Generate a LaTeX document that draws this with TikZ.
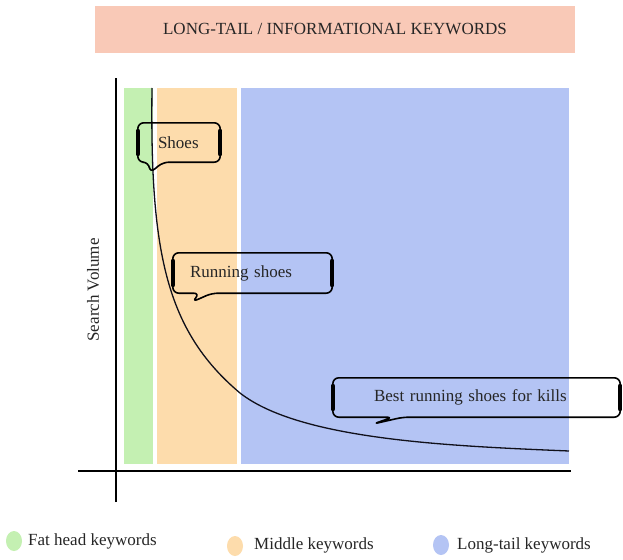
\documentclass[tikz,border=0pt]{standalone}
\usepackage{fontspec}
\setmainfont{Liberation Serif}
\usetikzlibrary{calc,shapes.geometric}

\definecolor{fathead}{HTML}{C4F0B2}
\definecolor{middlekw}{HTML}{FDDCAC}
\definecolor{longtail}{HTML}{B4C4F4}
\definecolor{titlebg}{HTML}{F9C9B7}
\definecolor{inkline}{HTML}{10101A}

\tikzset{
  lbl/.style={font=\fontsize{17}{20}\selectfont, text=black!85},
  titlebox/.style={lbl, fill=titlebg, minimum width=480pt, minimum height=47pt, inner sep=0pt},
  band/.style={inner sep=0pt, draw=none},
  axisline/.style={line width=1.3pt, black},
  demand/.style={line width=1.3pt, inkline},
  bubble/.style={lbl, inner ysep=0pt, align=left},
  bubbleline/.style={line width=1.6pt, black, rounded corners=6pt, line join=round},
  bubbleside/.style={line width=4pt, black, line cap=round},
  legdot/.style={ellipse, inner sep=0pt, minimum width=16pt, minimum height=20pt, draw=none},
  legtext/.style={lbl, anchor=west, inner sep=0pt},
}

\begin{document}
\begin{tikzpicture}[x=1pt,y=-1pt]
\useasboundingbox (0,0) rectangle (623,559);
\fill[white] (0,0) rectangle (623,559);

% heading
\node[titlebox] (title) at (335,29.5) {LONG-TAIL / INFORMATIONAL KEYWORDS};

% keyword bands
\node[band, fill=fathead, minimum width=29pt, minimum height=376pt] (fat) at (138.5,276) {};
\node[band, fill=middlekw, minimum width=80pt, minimum height=376pt] (mid) at (197,276) {};
\node[band, fill=longtail, minimum width=328pt, minimum height=376pt] (tail) at (405,276) {};

% axes
\coordinate (ybot) at (116,502);
\coordinate (ytop) at (116,78);
\coordinate (xleft) at (78,471);
\coordinate (xright) at (571,471);
\draw[axisline] (ybot) -- (ytop);
\draw[axisline] (xleft) -- (xright);
\node[lbl, rotate=90] (ylabel) at (93,290) {Search Volume};

% search volume curve
\coordinate (cstart) at (152,88);
\coordinate (cmid) at (240,393);
\coordinate (cend) at (569,451);
\draw[demand] (cstart) .. controls (150,250) and (165,330) .. (cmid)
  .. controls (300,440) and (450,446) .. (cend);

% callouts
\node[bubble, minimum width=82pt, minimum height=39pt, text width=42pt, inner xsep=20pt] (shoes) at (179,142.5) {Shoes};
\coordinate (shoestip) at (150,173);
\draw[bubbleline] (shoestip) -- ([xshift=11pt]shoes.south west) -- (shoes.south west) -- (shoes.north west)
  -- (shoes.north east) -- (shoes.south east) -- ([xshift=25pt]shoes.south west) -- cycle;
\draw[bubbleside] ([yshift=-8pt]shoes.north west) -- ([yshift=8pt]shoes.south west);
\draw[bubbleside] ([yshift=-8pt]shoes.north east) -- ([yshift=8pt]shoes.south east);

\node[bubble, minimum width=159pt, minimum height=40pt, text width=125pt, inner xsep=17pt] (running) at (252.5,273) {Running shoes};
\coordinate (runningtip) at (192,302);
\draw[bubbleline] (runningtip) -- ([xshift=27pt]running.south west) -- (running.south west) -- (running.north west)
  -- (running.north east) -- (running.south east) -- ([xshift=39pt]running.south west) -- cycle;
\draw[bubbleside] ([yshift=-8pt]running.north west) -- ([yshift=8pt]running.south west);
\draw[bubbleside] ([yshift=-8pt]running.north east) -- ([yshift=8pt]running.south east);

\node[bubble, minimum width=287pt, minimum height=39pt, text width=205pt, inner xsep=41pt] (best) at (476.5,397.5) {Best running shoes for kills};
\coordinate (besttip) at (373,424);
\draw[bubbleline] (besttip) -- ([xshift=60pt]best.south west) -- (best.south west) -- (best.north west)
  -- (best.north east) -- (best.south east) -- ([xshift=70pt]best.south west) -- cycle;
\draw[bubbleside] ([yshift=-8pt]best.north west) -- ([yshift=8pt]best.south west);
\draw[bubbleside] ([yshift=-8pt]best.north east) -- ([yshift=8pt]best.south east);

% legend
\node[legdot, fill=fathead] (legfat) at (14,541) {};
\node[legtext] (legfattext) at (28,541) {Fat head keywords};
\node[legdot, fill=middlekw] (legmid) at (235,546) {};
\node[legtext] (legmidtext) at (254,545) {Middle keywords};
\node[legdot, fill=longtail] (legtail) at (441,545) {};
\node[legtext] (legtailtext) at (457,545) {Long-tail keywords};
\end{tikzpicture}
\end{document}
